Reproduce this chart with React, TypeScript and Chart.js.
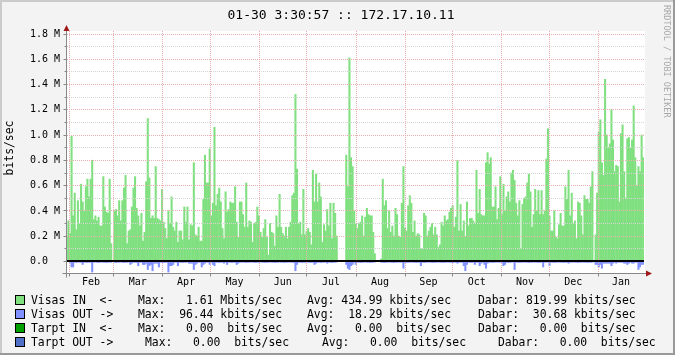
import React, { useEffect, useRef } from "react";
import { Chart, registerables } from "chart.js";

Chart.register(...registerables);

const TITLE = "01-30 3:30:57 :: 172.17.10.11";
const Y_AXIS_TITLE = "bits/sec";
const WATERMARK = "RRDTOOL / TOBI OETIKER";
const MONTH_LABELS = ["Feb", "Mar", "Apr", "May", "Jun", "Jul", "Aug", "Sep", "Oct", "Nov", "Dec", "Jan"];
const PERIOD_DAYS = 365;

// y axis (Mbits/sec)
const Y_MIN = -0.095;
const Y_MAX = 1.82;
const Y_MAJOR = [0.2, 0.4, 0.6, 0.8, 1.0, 1.2, 1.4, 1.6, 1.8];
const Y_MINOR = [0.1, 0.3, 0.5, 0.7, 0.9, 1.1, 1.3, 1.5, 1.7];
const Y_LABEL_VALUES = [0, 0.2, 0.4, 0.6, 0.8, 1.0, 1.2, 1.4, 1.6, 1.8];
const Y_LABELS = ["0.0  ", "0.2 M", "0.4 M", "0.6 M", "0.8 M", "1.0 M", "1.2 M", "1.4 M", "1.6 M", "1.8 M"];

// Visas IN, Mbits/sec, one value per day (four quarters)
const IN_Q1 = [0.19,0.32,0.22,0.99,0.36,0.54,0.25,0.48,0.30,0.61,
0.47,0.40,0.59,0.65,0.51,0.65,0.80,0.33,0.36,0.32,
0.35,0.28,0.28,0.67,0.43,0.39,0.38,0.65,0.14,0,
0.40,0.41,0.36,0.48,0.32,0.48,0.58,0.68,0.14,0.24,
0.25,0.43,0.58,0.67,0.42,0.36,0.28,0.38,0.16,0.23,
0.63,1.13,0.66,0.34,0.36,0.34,0.75,0.34,0.33,0.32,
0.57,0.31,0.26,0.18,0.40,0.30,0.51,0.27,0.24,0.31,
0.15,0.24,0.24,0.17,0.43,0.31,0.43,0.17,0.29,0.28,
0.78,0.21,0.20,0.27,0.16,0.16,0.49,0.84,0.62,0.62,
0.89];
const IN_Q2 = [0.36,0.46,1.06,0.44,0.53,0.58,0.47,0.26,0.18,0.55,
0.39,0.41,0.47,0.46,0.46,0.59,0.31,0.19,0.47,0.47,
0.37,0.27,0.62,0.27,0.32,0.31,0.15,0.30,0.31,0.43,
0.36,0.23,0.19,0.26,0.33,0.19,0.05,0.30,0.23,0.22,
0.12,0.36,0.27,0.53,0.27,0.22,0.20,0.27,0.18,0.27,
0.31,0.52,0.54,1.32,0.73,0.30,0.31,0.21,0.57,0.21,
0.24,0.26,0.23,0.13,0.72,0.47,0.69,0.47,0.62,0.51,
0.15,0.29,0.24,0.41,0.28,0.46,0.18,0.46,0.38,0.20,
0,0,0,0,0,0.84,0.59,1.61,0.82,0.75,
0.40];
const IN_Q3 = [0.30,0.26,0.30,0.31,0.36,0.20,0.35,0.42,0.37,0.36,
0.36,0.23,0.06,0,0,0,0.02,0.65,0.44,0.48,
0.26,0.40,0.23,0.28,0.20,0.42,0.37,0.20,0.19,0.46,
0.75,0.26,0.24,0.44,0.52,0.46,0.23,0.32,0.20,0.22,
0.21,0.10,0.10,0.38,0.36,0.20,0.24,0.27,0.30,0.21,
0.27,0.21,0.11,0.13,0.31,0.28,0.36,0.32,0.33,0.39,
0.42,0.44,0.27,0.35,0.80,0.24,0.45,0.24,0.32,0.19,
0.47,0.28,0.34,0.34,0.32,0.30,0.72,0.38,0.57,0.37,
0.36,0.36,0.78,0.86,0.77,0.82,0.43,0.43,0.59,0.33,
0.42];
const IN_Q4 = [0.67,0.37,0.61,0.40,0.51,0.55,0.47,0.70,0.72,0.64,
0.46,0.36,0.48,0.10,0.45,0.50,0.51,0.62,0.69,0.55,
0.27,0.37,0.57,0.40,0.56,0.37,0.56,0.37,0.40,0.81,
1.05,0.36,0.24,0.24,0.40,0.19,0.18,0.29,0.38,0.28,
0.28,0.59,0.49,0.72,0.36,0.54,0.30,0.32,0.18,0.47,
0.46,0.36,0.21,0.52,0.49,0.49,0.46,0.59,0.71,0,
0.21,0.54,1.02,1.12,0.78,0.68,1.44,1.00,0.90,0.93,
1.20,0.96,0.71,0.76,0.75,0.47,1.01,1.08,0.71,0.50,
0.97,0.98,0.90,0.96,1.23,0.82,0.60,0.75,0.71,1.00,
0.82];

// Visas OUT, Mbits/sec (drawn below zero)
const OUT_Q1 = [0.008,0.008,0.013,0.050,0.050,0.013,0.015,0.011,0.013,0.013,
0.030,0.013,0.013,0.015,0.013,0.013,0.090,0.013,0.011,0.013,
0.015,0.013,0.011,0.013,0.013,0.015,0.013,0.011,0.013,0,
0.013,0.015,0.013,0.013,0.011,0.013,0.015,0.013,0.013,0.011,
0.030,0.020,0.013,0.013,0.015,0.040,0.013,0.013,0.030,0.030,
0.020,0.070,0.040,0.030,0.080,0.020,0.020,0.020,0.050,0.013,
0.013,0.015,0.013,0.013,0.090,0.040,0.040,0.030,0.013,0.013,
0.040,0.013,0.013,0.015,0.013,0.013,0.011,0.020,0.020,0.020,
0.070,0.030,0.020,0.013,0.013,0.050,0.030,0.020,0.013,0.013,
0.030];
const OUT_Q2 = [0.013,0.030,0.040,0.013,0.013,0.015,0.013,0.013,0.020,0.013,
0.030,0.013,0.013,0.015,0.013,0.013,0.030,0.020,0.013,0.013,
0.011,0.013,0.015,0.013,0.013,0.011,0.013,0.013,0.015,0.013,
0.013,0.011,0.013,0.013,0.015,0.013,0.013,0.011,0.013,0.013,
0.015,0.013,0.013,0.011,0.013,0.013,0.015,0.013,0.013,0.011,
0.013,0.013,0.015,0.080,0.030,0.013,0.013,0.015,0.013,0.013,
0.011,0.013,0.013,0.015,0.013,0.030,0.020,0.013,0.013,0.015,
0.013,0.013,0.011,0.020,0.013,0.013,0.015,0.013,0.013,0.011,
0,0,0,0,0,0.030,0.060,0.070,0.040,0.030,
0.013];
const OUT_Q3 = [0.030,0.013,0.013,0.015,0.013,0.013,0.011,0.013,0.013,0.015,
0.013,0.013,0.011,0,0,0,0.013,0.013,0.015,0.013,
0.013,0.011,0.013,0.013,0.015,0.013,0.013,0.011,0.013,0.013,
0.060,0.013,0.015,0.013,0.013,0.011,0.013,0.013,0.015,0.013,
0.013,0.040,0.013,0.015,0.013,0.013,0.011,0.013,0.013,0.015,
0.013,0.013,0.011,0.013,0.013,0.015,0.013,0.013,0.011,0.013,
0.013,0.015,0.013,0.013,0.020,0.013,0.013,0.013,0.040,0.080,
0.030,0.013,0.013,0.015,0.013,0.030,0.013,0.013,0.040,0.020,
0.013,0.030,0.060,0.020,0.013,0.013,0.015,0.013,0.013,0.011,
0.013];
const OUT_Q4 = [0.013,0.013,0.040,0.030,0.013,0.015,0.013,0.013,0.011,0.070,
0.013,0.013,0.015,0.013,0.013,0.011,0.013,0.013,0.015,0.013,
0.013,0.011,0.013,0.013,0.015,0.013,0.013,0.050,0.013,0.013,
0.011,0.040,0.013,0.013,0.015,0.013,0.013,0.011,0.013,0.013,
0.015,0.013,0.013,0.020,0.013,0.013,0.011,0.013,0.013,0.015,
0.013,0.013,0.011,0.013,0.013,0.015,0.013,0.013,0.013,0,
0.030,0.030,0.050,0.030,0.060,0.020,0.020,0.020,0.020,0.020,
0.040,0.020,0.013,0.020,0.013,0.013,0.013,0.013,0.020,0.020,
0.030,0.020,0.013,0.020,0.020,0.013,0.013,0.070,0.050,0.030,
0.030];

// legend
const LEGEND_NAMES = ["Visas IN  <-", "Visas OUT ->", "Tarpt IN  <-", "Tarpt OUT ->"];
const LEGEND_MAX = ["Max:   1.61 Mbits/sec", "Max:  96.44 kbits/sec", "Max:   0.00  bits/sec", "Max:   0.00  bits/sec"];
const LEGEND_AVG = ["Avg: 434.99 kbits/sec", "Avg:  18.29 kbits/sec", "Avg:   0.00  bits/sec", "Avg:   0.00  bits/sec"];
const LEGEND_CUR = ["Dabar: 819.99 kbits/sec", "Dabar:  30.68 kbits/sec", "Dabar:   0.00  bits/sec", "Dabar:   0.00  bits/sec"];
const LEGEND_COLORS = ["#80E080", "#8090FF", "#00A000", "#5070C8"];

const IN_COLOR = "#80E080";
const OUT_COLOR = "#8090FF";
const MAJOR_GRID = "#EBAFAF";
const MINOR_GRID = "#D4D4D4";
const MONO = "'DejaVu Sans Mono', monospace";

const START = new Date(2009, 0, 30, 3, 30, 57);
const dayOf = (d: Date) => (d.getTime() - START.getTime()) / 86400000;
const MONTH_STARTS = MONTH_LABELS.map((_, k) => dayOf(new Date(2009, 1 + k, 1)));
const MONTH_ENDS = MONTH_LABELS.map((_, k) => dayOf(new Date(2009, 2 + k, 1)));

const IN_VALUES = [...IN_Q1, ...IN_Q2, ...IN_Q3, ...IN_Q4];
const OUT_VALUES = [...OUT_Q1, ...OUT_Q2, ...OUT_Q3, ...OUT_Q4];

function toPoints(vals: number[], sign: number) {
  const step = PERIOD_DAYS / vals.length;
  return vals.map((v, i) => ({ x: (i + 0.5) * step, y: sign * v }));
}

const rrdPlugin = {
  id: "rrdlook",
  beforeDraw(chart: any) {
    const { ctx, chartArea: a, width, height } = chart;
    ctx.save();
    ctx.fillStyle = "#F3F3F3";
    ctx.fillRect(0, 0, width, height);
    ctx.fillStyle = "#CBCBCB";
    ctx.fillRect(0, 0, width, 2);
    ctx.fillRect(0, 0, 2, height);
    ctx.fillStyle = "#999999";
    ctx.fillRect(0, height - 2, width, 2);
    ctx.fillRect(width - 2, 0, 2, height);
    ctx.fillStyle = "#FFFFFF";
    ctx.fillRect(a.left, a.top, a.right - a.left + 1, a.bottom - a.top);
    ctx.restore();
  },
  afterDatasetsDraw(chart: any) {
    const { ctx, chartArea: a, scales } = chart;
    const xs = scales.x;
    const ys = scales.y;
    ctx.save();
    ctx.lineWidth = 1;
    ctx.setLineDash([1, 1]);
    const hline = (v: number, color: string) => {
      const y = Math.round(ys.getPixelForValue(v)) + 0.5;
      ctx.strokeStyle = color;
      ctx.beginPath();
      ctx.moveTo(a.left + 1, y);
      ctx.lineTo(a.right, y);
      ctx.stroke();
    };
    Y_MINOR.forEach((v) => hline(v, MINOR_GRID));
    Y_MAJOR.forEach((v) => hline(v, MAJOR_GRID));
    MONTH_STARTS.forEach((d) => {
      const x = Math.round(xs.getPixelForValue(d)) + 0.5;
      ctx.strokeStyle = MAJOR_GRID;
      ctx.beginPath();
      ctx.moveTo(x, a.top);
      ctx.lineTo(x, a.bottom);
      ctx.stroke();
    });
    ctx.setLineDash([]);

    // zero line
    const y0 = Math.round(ys.getPixelForValue(0));
    ctx.fillStyle = "#000000";
    ctx.fillRect(a.left, y0 - 1, a.right - a.left, 2);

    // axes
    const axisColor = "#888888";
    const ax = Math.round(a.left) + 0.5;
    const ay = Math.round(a.bottom) + 0.5;
    ctx.strokeStyle = axisColor;
    ctx.beginPath();
    ctx.moveTo(ax, a.top - 3);
    ctx.lineTo(ax, ay + 4);
    ctx.moveTo(ax - 4, ay);
    ctx.lineTo(a.right + 4, ay);
    ctx.stroke();
    // ticks
    ctx.beginPath();
    Y_LABEL_VALUES.forEach((v) => {
      const y = Math.round(ys.getPixelForValue(v)) + 0.5;
      ctx.moveTo(ax - 3, y);
      ctx.lineTo(ax, y);
    });
    Y_MINOR.forEach((v) => {
      const y = Math.round(ys.getPixelForValue(v)) + 0.5;
      ctx.moveTo(ax - 2, y);
      ctx.lineTo(ax, y);
    });
    MONTH_STARTS.forEach((d) => {
      const x = Math.round(xs.getPixelForValue(d)) + 0.5;
      ctx.moveTo(x, ay);
      ctx.lineTo(x, ay + 3);
    });
    ctx.stroke();
    // arrows
    ctx.fillStyle = "#A01818";
    ctx.beginPath();
    ctx.moveTo(ax, a.top - 6);
    ctx.lineTo(ax - 3, a.top);
    ctx.lineTo(ax + 3, a.top);
    ctx.closePath();
    ctx.fill();
    ctx.beginPath();
    ctx.moveTo(a.right + 8, ay);
    ctx.lineTo(a.right + 2, ay - 3);
    ctx.lineTo(a.right + 2, ay + 3);
    ctx.closePath();
    ctx.fill();

    // y tick labels
    ctx.fillStyle = "#000000";
    ctx.font = `10px ${MONO}`;
    ctx.textAlign = "right";
    ctx.textBaseline = "middle";
    Y_LABEL_VALUES.forEach((v, i) => {
      ctx.fillText(Y_LABELS[i], 60, ys.getPixelForValue(v) + 0.5);
    });

    // month labels
    ctx.textAlign = "center";
    ctx.textBaseline = "alphabetic";
    MONTH_LABELS.forEach((m, i) => {
      const x = xs.getPixelForValue((MONTH_STARTS[i] + Math.min(MONTH_ENDS[i], PERIOD_DAYS)) / 2);
      ctx.fillText(m, x, a.bottom + 12);
    });

    // title
    ctx.font = `13px ${MONO}`;
    ctx.fillText(TITLE, 341, 18.5);

    // y axis title
    ctx.save();
    ctx.font = `11.4px ${MONO}`;
    ctx.translate(10, 148);
    ctx.rotate(-Math.PI / 2);
    ctx.textBaseline = "middle";
    ctx.fillText(Y_AXIS_TITLE, 0, 0);
    ctx.restore();

    // watermark
    ctx.save();
    ctx.font = `8.5px ${MONO}`;
    ctx.fillStyle = "#A8A8A8";
    ctx.translate(666.5, 5);
    ctx.rotate(Math.PI / 2);
    ctx.textAlign = "left";
    ctx.textBaseline = "middle";
    ctx.fillText(WATERMARK, 0, 0);
    ctx.restore();

    // legend
    ctx.font = `11.4px ${MONO}`;
    ctx.textAlign = "left";
    ctx.textBaseline = "alphabetic";
    const colX = [
      [31, 138, 307, 478],
      [31, 138, 307, 478],
      [31, 138, 307, 478],
      [31, 145, 322, 498],
    ];
    LEGEND_NAMES.forEach((name, i) => {
      const base = 303.5 + i * 14;
      const top = 295 + i * 14;
      ctx.fillStyle = LEGEND_COLORS[i];
      ctx.fillRect(15, top, 10, 10);
      ctx.strokeStyle = "#000000";
      ctx.lineWidth = 1;
      ctx.strokeRect(15.5, top + 0.5, 9, 9);
      ctx.fillStyle = "#000000";
      const parts = [name, LEGEND_MAX[i], LEGEND_AVG[i], LEGEND_CUR[i]];
      parts.forEach((p, j) => ctx.fillText(p, colX[i][j], base));
    });
    ctx.restore();
  },
};

export default function App() {
  const ref = useRef<HTMLCanvasElement | null>(null);
  useEffect(() => {
    if (!ref.current) return;
    const chart = new Chart(ref.current, {
      type: "bar",
      data: {
        datasets: [
          {
            label: "Visas IN",
            data: toPoints(IN_VALUES, 1),
            backgroundColor: IN_COLOR,
            borderWidth: 0,
            barPercentage: 1.3,
            categoryPercentage: 1,
            stack: "traffic",
          },
          {
            label: "Visas OUT",
            data: toPoints(OUT_VALUES, -1),
            backgroundColor: OUT_COLOR,
            borderWidth: 0,
            barPercentage: 1.3,
            categoryPercentage: 1,
            stack: "traffic",
          },
        ],
      },
      options: {
        animation: false,
        responsive: false,
        devicePixelRatio: 1,
        layout: { padding: { left: 66, top: 31, right: 31, bottom: 82 } },
        scales: {
          x: { type: "linear", min: 0, max: PERIOD_DAYS, display: false, offset: false, stacked: true },
          y: { type: "linear", min: Y_MIN, max: Y_MAX, display: false, stacked: true },
        },
        plugins: { legend: { display: false }, tooltip: { enabled: false } },
      },
      plugins: [rrdPlugin],
    } as any);
    return () => chart.destroy();
  }, []);
  return (
    <div style={{ position: "fixed", left: 0, top: 0, width: 675, height: 355 }}>
      <canvas ref={ref} width={675} height={355} style={{ display: "block", width: 675, height: 355 }} />
    </div>
  );
}
